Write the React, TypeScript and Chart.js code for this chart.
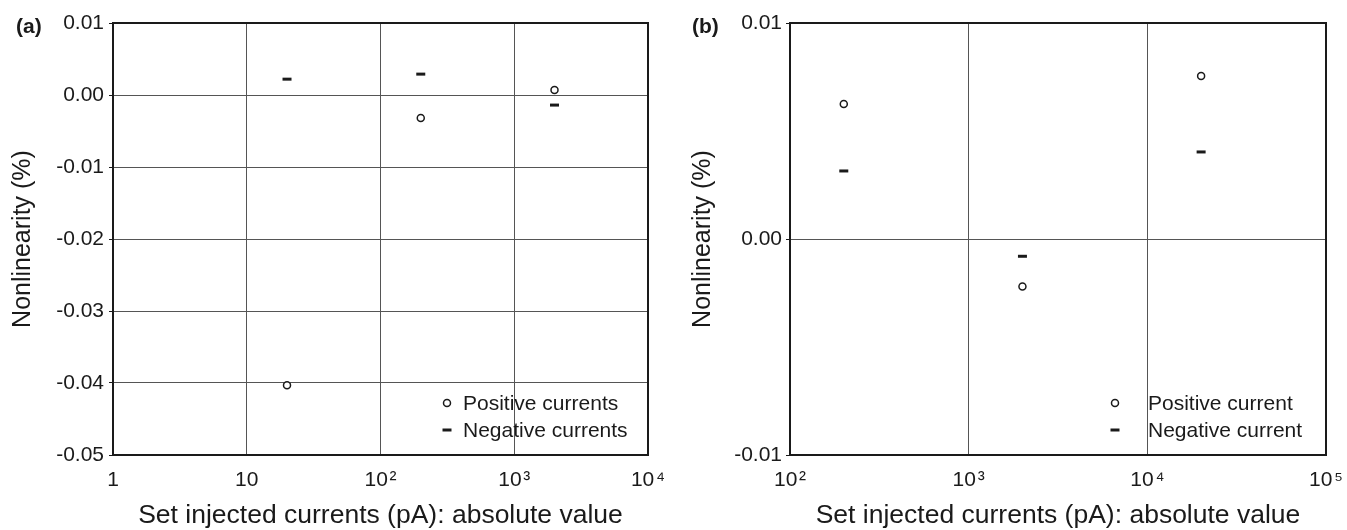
import React, { useEffect, useRef } from "react";
import { Chart, registerables } from "chart.js";
Chart.register(...registerables);

// ---------- data ----------
const currentsA = [20, 200, 2000];
const positiveA = [-0.0403, -0.0032, 0.0007];
const negativeA = [0.0022, 0.0029, -0.0014];
const xTicksA = [1, 10, 100, 1000, 10000];
const xTickLabelsA = ["1", "10", "10\u200A²", "10\u200A³", "10\u200A⁴"];
const yTicksA = [0.01, 0, -0.01, -0.02, -0.03, -0.04, -0.05];
const yTickLabelsA = ["0.01", "0.00", "-0.01", "-0.02", "-0.03", "-0.04", "-0.05"];
const legendA = ["Positive currents", "Negative currents"];

const currentsB = [200, 2000, 20000];
const positiveB = [0.00625, -0.0022, 0.00755];
const negativeB = [0.00315, -0.0008, 0.00403];
const xTicksB = [100, 1000, 10000, 100000];
const xTickLabelsB = ["10\u200A²", "10\u200A³", "10\u200A⁴", "10\u200A⁵"];
const yTicksB = [0.01, 0, -0.01];
const yTickLabelsB = ["0.01", "0.00", "-0.01"];
const legendB = ["Positive current", "Negative current"];

const xTitle = "Set injected currents (pA): absolute value";
const yTitle = "Nonlinearity (%)";

const FONT = "'Liberation Sans', Arial, Helvetica, sans-serif";
const INK = "#1a1a1a";
const GRID = "#555555";

const decorPlugin = {
  id: "decor",
  beforeDatasetsDraw(chart: any) {
    const { ctx, chartArea } = chart;
    ctx.save();
    ctx.strokeStyle = INK;
    ctx.lineWidth = 2;
    ctx.strokeRect(chartArea.left, chartArea.top, chartArea.right - chartArea.left, chartArea.bottom - chartArea.top);
    ctx.restore();
  },
  afterDraw(chart: any, _args: any, opts: any) {
    const { ctx, chartArea } = chart;
    ctx.save();
    // panel label
    ctx.fillStyle = INK;
    ctx.font = `bold 21px ${FONT}`;
    ctx.textAlign = "left";
    ctx.textBaseline = "middle";
    ctx.fillText(opts.panel, opts.panelX, opts.panelY);
    // legend
    ctx.font = `21px ${FONT}`;
    const labels: string[] = opts.labels;
    labels.forEach((lab, i) => {
      const my = chartArea.bottom - opts.rowBottom + i * opts.rowGap;
      const mx = chartArea.right - opts.markerDx;
      ctx.strokeStyle = INK;
      if (i === 0) {
        ctx.lineWidth = 1.5;
        ctx.beginPath();
        ctx.arc(mx, my, 3.5, 0, Math.PI * 2);
        ctx.fillStyle = "#fff";
        ctx.fill();
        ctx.stroke();
      } else {
        ctx.lineWidth = 3;
        ctx.beginPath();
        ctx.moveTo(mx - 4.5, my);
        ctx.lineTo(mx + 4.5, my);
        ctx.stroke();
      }
      ctx.fillStyle = INK;
      ctx.fillText(lab, chartArea.right - opts.textDx, my + 1);
    });
    ctx.restore();
  },
};

type Spec = {
  currents: number[];
  pos: number[];
  neg: number[];
  xTicks: number[];
  xLabels: string[];
  yTicks: number[];
  yLabels: string[];
  legend: string[];
  yWidth: number;
  rightPad: number;
  panel: string;
  panelX: number;
  markerDx: number;
  textDx: number;
  tickPad: number;
};

function makeConfig(s: Spec): any {
  return {
    type: "scatter",
    data: {
      datasets: [
        {
          label: s.legend[0],
          data: s.currents.map((x, i) => ({ x, y: s.pos[i] })),
          pointStyle: "circle",
          pointRadius: 3.5,
          pointBorderWidth: 1.5,
          pointBorderColor: INK,
          pointBackgroundColor: "#fff",
          showLine: false,
        },
        {
          label: s.legend[1],
          data: s.currents.map((x, i) => ({ x, y: s.neg[i] })),
          pointStyle: "line",
          pointRadius: 4.5,
          pointBorderWidth: 3,
          pointBorderColor: INK,
          pointBackgroundColor: INK,
          showLine: false,
        },
      ],
    },
    options: {
      animation: false,
      responsive: false,
      layout: { padding: { top: 23, right: s.rightPad, bottom: 0, left: 0 } },
      plugins: {
        legend: { display: false },
        tooltip: { enabled: false },
        decor: {
          panel: s.panel,
          panelX: s.panelX,
          panelY: 27,
          labels: s.legend,
          rowBottom: 52,
          rowGap: 27,
          markerDx: s.markerDx,
          textDx: s.textDx,
        },
      },
      scales: {
        x: {
          type: "logarithmic",
          min: s.xTicks[0],
          max: s.xTicks[s.xTicks.length - 1],
          afterBuildTicks: (scale: any) => {
            scale.ticks = s.xTicks.map((v) => ({ value: v }));
          },
          afterFit: (scale: any) => {
            scale.height = 75;
            scale.paddingLeft = 0;
            scale.paddingRight = 0;
          },
          grid: { color: GRID, lineWidth: 1, drawTicks: false },
          border: { display: false },
          ticks: {
            autoSkip: false,
            maxRotation: 0,
            padding: 13,
            color: INK,
            font: { family: FONT, size: 21 },
            callback: (_v: any, i: number) => s.xLabels[i],
          },
          title: {
            display: true,
            text: xTitle,
            color: INK,
            font: { family: FONT, size: 26.5, lineHeight: 1 },
            padding: { top: 0, bottom: 1 },
          },
        },
        y: {
          type: "linear",
          min: s.yTicks[s.yTicks.length - 1],
          max: s.yTicks[0],
          afterBuildTicks: (scale: any) => {
            scale.ticks = s.yTicks.map((v) => ({ value: v }));
          },
          afterFit: (scale: any) => {
            scale.width = s.yWidth;
          },
          grid: { color: GRID, lineWidth: 1, drawTicks: true, tickLength: 4, tickColor: INK },
          border: { display: false },
          ticks: {
            autoSkip: false,
            padding: s.tickPad,
            color: INK,
            font: { family: FONT, size: 21 },
            callback: (_v: any, i: number) => s.yLabels[i],
          },
          title: {
            display: true,
            text: yTitle,
            color: INK,
            font: { family: FONT, size: 25, lineHeight: 1 },
            padding: { top: 11, bottom: 0 },
          },
        },
      },
    },
    plugins: [decorPlugin],
  };
}

function Panel({ spec, left, width }: { spec: Spec; left: number; width: number }) {
  const ref = useRef<HTMLCanvasElement>(null);
  useEffect(() => {
    if (!ref.current) return;
    const chart = new Chart(ref.current, makeConfig(spec));
    return () => chart.destroy();
  }, []);
  return (
    <div style={{ position: "absolute", left, top: 0, width, height: 530 }}>
      <canvas ref={ref} width={width} height={530} style={{ width, height: 530, display: "block" }} />
    </div>
  );
}

const specA: Spec = {
  currents: currentsA,
  pos: positiveA,
  neg: negativeA,
  xTicks: xTicksA,
  xLabels: xTickLabelsA,
  yTicks: yTicksA,
  yLabels: yTickLabelsA,
  legend: legendA,
  yWidth: 113,
  rightPad: 32,
  panel: "(a)",
  panelX: 16,
  markerDx: 201,
  textDx: 185,
  tickPad: 5,
};

const specB: Spec = {
  currents: currentsB,
  pos: positiveB,
  neg: negativeB,
  xTicks: xTicksB,
  xLabels: xTickLabelsB,
  yTicks: yTicksB,
  yLabels: yTickLabelsB,
  legend: legendB,
  yWidth: 110,
  rightPad: 21,
  panel: "(b)",
  panelX: 12,
  markerDx: 211,
  textDx: 178,
  tickPad: 4,
};

export default function App() {
  return (
    <div style={{ position: "absolute", left: 0, top: 0, width: 1347, height: 530, background: "#fff" }}>
      <Panel spec={specA} left={0} width={680} />
      <Panel spec={specB} left={680} width={667} />
    </div>
  );
}
